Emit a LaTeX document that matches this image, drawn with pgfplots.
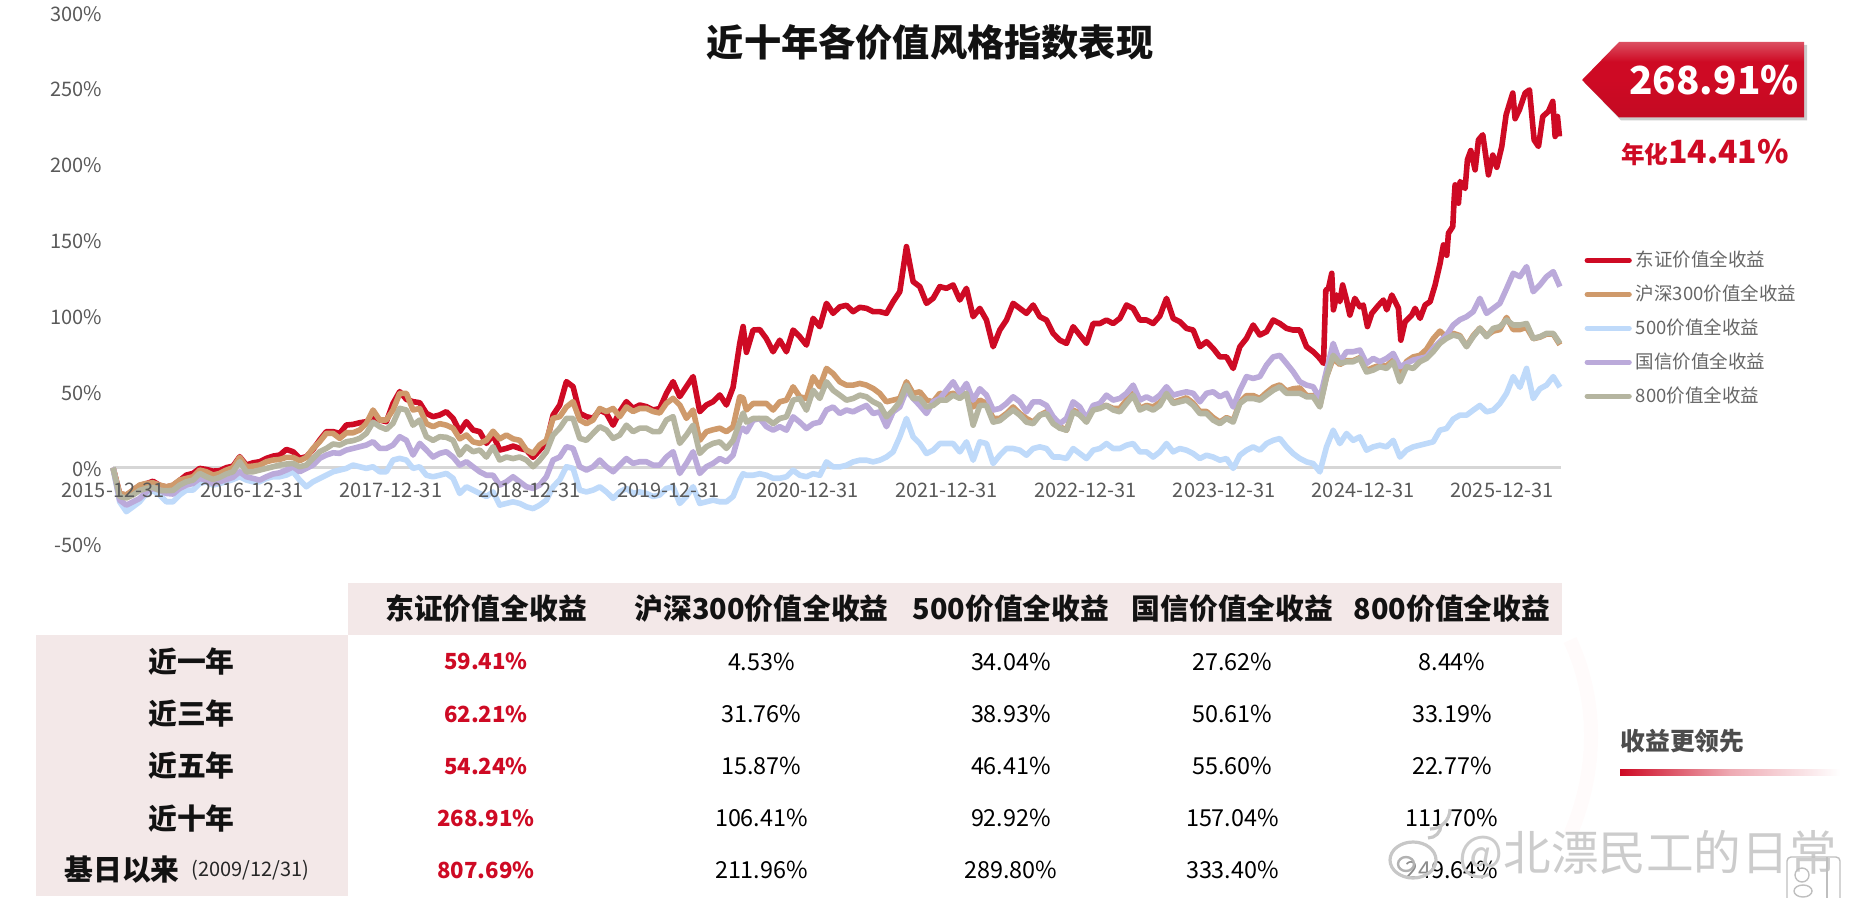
\documentclass[border=0pt]{standalone}
\usepackage{fontspec}
\setmainfont{Noto Sans CJK SC}
\usepackage{pgfplots}
\usepackage{pgfplotstable}
\pgfplotsset{compat=1.18}

\definecolor{cRed}{HTML}{CE0A24}
\definecolor{cOrange}{HTML}{CF9A6B}
\definecolor{cBlue}{HTML}{BFDAFA}
\definecolor{cPurple}{HTML}{BBAADA}
\definecolor{cOlive}{HTML}{B5B5A0}
\definecolor{cBand}{HTML}{F3E8E8}
\definecolor{cTick}{HTML}{595959}

\pgfdeclareverticalshading{badge}{100bp}{color(0bp)=(cRed!95!black); color(25bp)=(cRed!95!black); color(50bp)=(cRed); color(62bp)=(cRed); color(75bp)=(cRed!72!white); color(100bp)=(cRed!72!white)}
\pgfdeclarehorizontalshading{fadebar}{100bp}{color(0bp)=(cRed); color(25bp)=(cRed); color(50bp)=(cRed!35!white); color(75bp)=(white); color(100bp)=(white)}

% day = trading days since 2015-12-31, 250 to a tick; the others are cumulative return in %
\pgfplotstableread{
day red hs300 z500 guoxin z800
0 0 0 0 0 0
12 -17.2 -17 -22.5 -21.4 -19
24 -18.2 -18 -29 -24.7 -20
36 -15 -14.8 -25.8 -22.5 -18
48 -11.8 -11.5 -22.5 -20.3 -15
60 -10.6 -10.4 -17 -15.9 -13.7
72 -9 -10 -15.2 -13.7 -13
84 -11.7 -11.5 -18 -14.8 -15
96 -12.8 -12.6 -22.5 -17 -15.2
108 -11.7 -11.5 -22.5 -17.4 -15
120 -8.4 -8.2 -18 -13.7 -11.5
132 -4.9 -7.1 -14.8 -11.5 -9.3
144 -3.8 -6 -14.8 -10.4 -8.2
156 -0.5 -1.6 -10.4 -7.1 -3.8
168 -1.2 -2.7 -9.3 -8.2 -6
180 -2.3 -4.9 -11.5 -10.4 -7.8
192 -2 -3.8 -10.4 -9.3 -6.4
204 0 -1.6 -9.3 -7.8 -4.2
216 1 0 -7.8 -6.4 -2.7
228 7.2 6.8 -6 -2.7 3.9
240 1.7 0.6 -8.2 -6 -2.7
252 3.2 1 -9.3 -7.1 -2.7
264 3.9 1.7 -9.3 -8.2 -1.6
276 6.1 3.9 -7.1 -6 -0.5
288 7.6 5 -6 -4.2 0.6
300 8.3 5.4 -6 -3.4 1.7
312 12 6.8 -4.9 -1.6 2.4
324 10.5 6.8 -2.7 0.6 2.8
336 6.1 4.6 -8.2 -2.7 0.6
348 7.2 6.8 -12.6 -0.5 1.7
360 12 12.7 -9.3 1.7 6.1
372 18.2 17.1 -7.1 6.1 10.5
384 23.7 22.6 -4.9 8.3 12.7
396 23.7 22.6 -2.7 9.8 15.6
408 22.6 19.3 -1.6 9.4 14.9
420 28.1 23 -0.5 11.6 17.1
432 28.5 23 1.7 12.7 17.8
444 29.6 24.8 0.6 13.8 19.3
456 30.3 29.2 -0.5 14.9 22.6
468 33.6 38 0.6 17.1 30
480 31.4 31.4 -2.7 12.7 27
492 30.3 31.4 -2.7 12.7 25.2
504 42.4 38 5 14.9 29.2
516 50.1 49 6.1 20.4 39.1
528 45 49 5 18 38
540 43.5 38 -0.5 8.3 28
552 42.8 39 0.6 16 31.4
564 35.8 29 -5 11.6 20.4
576 33.6 27 -6 7 18
588 34.7 29 -5 9.4 20.4
600 36.9 28 -3.8 10.5 20
612 32.5 26 -7 7 18
624 23.7 19 -17 1.7 8.3
636 30.3 21.5 -12.6 3.9 13.8
648 24.8 17 -14.8 0.6 10.5
660 23.7 16 -17 -2.7 11.6
672 16 18 -19 -5 7
684 21.5 24 -16 -5 13.8
696 11.6 19 -24.7 -11.5 5
708 12.7 21.5 -23.6 -9.3 7
720 14.2 19 -22.5 -6 6
732 12.7 18 -23.6 -9.3 7
744 11.6 11.6 -25.8 -12.6 5
756 6.8 9.4 -27 -13.7 0.6
768 11.6 15 -24.7 -11.5 5
780 16 18 -21.4 -6 10.5
792 34.7 32.5 -12.6 5 21.5
804 41.3 33.6 -8 7 26
816 56.7 40 0.6 13.8 32.5
828 53.4 43.5 -0.5 12.7 32.5
840 35.8 31.4 -14.8 0.6 19.3
852 33.6 29 -16 -1.6 18
864 32.5 31.4 -14.8 0.6 22.6
876 38 39 -12.6 5 27
888 35.8 37 -16 0.6 24.8
900 28 39 -20.3 -2.7 19.3
912 36.9 33.6 -16 1.7 21.5
924 43.5 40 -13.7 6 28
936 39 37 -17 2.8 23.7
948 41.3 39 -16 3.9 26
960 40.2 39 -17 3.9 26
972 38 37 -19 1.7 23.7
984 39 36 -18 1.7 23.7
996 49 42.4 -13.7 7 31.4
1008 56.7 45.7 -12.6 10.5 33.6
1020 46.8 41.3 -23.6 -3.8 16
1032 53.4 32.5 -19 2.8 21.5
1044 60 38 -12.6 10.5 28
1056 36.9 18 -23.6 -3.8 9.4
1068 41.3 23.7 -22.5 0.6 13.8
1080 43.5 25 -21.4 2.8 16
1092 47.9 26 -22.5 6 17
1104 41.3 23.7 -22.5 3.9 12.7
1116 53 27 -19 8.3 18
1128 82 46.7 -8 24 30
1134 93 46 -4 26 36
1140 76 38 -5 23.6 30
1152 90.7 42.3 -5 31.3 32.4
1164 91 42.3 -4 32.4 32.4
1176 85 42.3 -5 27 32.4
1188 76.4 38 -7 24.7 29
1200 84 43.4 -7 27 32.4
1212 76.4 44.5 -6 24.7 33.5
1224 90.7 53.3 -1.7 33.5 44.5
1236 86.3 46.7 -5 30 45.6
1248 80.8 45.6 -6 25.8 37.9
1260 98.4 59.9 -4 29 51
1272 92.9 53.3 -5 30 45.6
1284 108.3 65.4 3.8 38 56.6
1296 101.7 62 0.5 40 51
1308 106 56.6 0.5 35.7 47.8
1320 107 54.4 1.6 38 44.5
1332 102.8 54.4 3.8 36.8 45.6
1344 105.7 55.5 4.9 39 47.8
1356 105 54.4 4.9 41 46.7
1368 102.8 52.2 3.8 35.7 43.4
1380 102.8 48.9 4.9 36.8 41.2
1392 101.7 43.4 7 27 33.5
1404 109.4 44.5 10.4 36.8 37.9
1416 116 45.6 20.3 40 43.4
1428 145.7 56.6 32.4 51 54.4
1440 122.6 48.9 20.3 45.6 45.6
1452 119.3 50 15.9 41 45.6
1464 108.3 44.5 9.3 35.7 40
1476 111.6 43.4 11.5 43.4 41
1488 119.3 49 15.9 45.6 44.5
1500 118.2 47.8 15.9 51 44.5
1512 120.4 49 15.9 56.6 47.8
1524 110.5 46.7 10.4 49 45.6
1536 118.2 49 17 55.5 49
1548 99.5 40 4.9 44.5 28
1560 105 44.5 17 52 41
1572 97.3 42.3 15.9 47.8 41
1584 79.7 32.4 2.7 38 30
1596 90.7 32.4 8.2 39 31
1608 97.3 35.7 12.6 42.3 34.6
1620 108.3 40 12.6 46.7 38
1632 105 35.7 11.5 43.4 34.6
1644 101.7 32.4 8.2 36.8 30
1656 107.2 30 12.6 43.4 29
1668 99.5 34.6 13.7 43.4 34.6
1680 97.3 36.8 12.6 41 35.7
1692 88.5 31.3 7 33.5 29
1704 84 27 7 29 26
1716 81.9 24.7 6 32.4 24.7
1728 92.9 37.9 12.6 43.4 36.8
1740 87.4 35.7 9.3 40 34.6
1752 81.9 31.3 6 32.4 30
1764 95 39 11.5 41 38
1776 95 40 12.6 42.3 39
1788 97.3 41 15.9 47.8 41
1800 95 39 12.6 44.5 38
1812 98.4 39 12.6 45.6 36.8
1824 107.2 44.5 14.8 49 42.3
1836 105 49 15.9 54.4 47.8
1848 97.3 39 10.4 44.5 38
1860 97.3 41 10.4 46.7 40
1872 95 40 7 44.5 37.9
1884 100 43 10.4 47.8 41
1896 111.6 49.5 15.9 53.3 48.9
1908 98.4 43 10.4 47.8 42.3
1920 96.2 44.5 12.6 49 43.4
1932 91.8 46 11.5 50 44.5
1944 90.7 42.5 9.3 49 41.2
1956 79.7 37 6 43.4 35.7
1968 83 37 8.2 49 35.7
1980 78.6 33 7 50 31.3
1992 73 30 4.9 46.7 29
2004 73 33 6 49 32.4
2016 65.4 31 -0.5 40 30
2028 79.7 43 8.2 51 42.3
2040 85.2 47.5 11.5 60 45.6
2052 94 47.5 13.7 58.8 45.6
2064 87.4 45.5 11.5 60 44.5
2076 89.6 49.5 15.9 67.6 47.8
2088 97.3 53 18 73 51
2100 95 54.5 19.2 74 53.3
2112 91.8 50.5 13.7 68.7 49
2124 90.7 52 9.3 63.2 49
2136 90.7 52.5 6 56.6 49
2148 79.7 47.5 3.8 54.4 46.7
2160 76.4 47.5 2.7 53.3 46.7
2172 72 41 -2.8 45.6 40
2184 117 60 13.7 64 59.9
2196 125 72 24.7 81.9 74
2208 113.8 68 15.9 69.8 68.7
2220 109.4 70.5 22.5 76.4 69.8
2232 107.2 70.5 18 76.4 69.8
2244 107 72.5 20.3 77.5 72
2256 94 64 11.5 68.7 63
2268 100.6 66 13.7 72 64.3
2280 107 67.5 14.8 69.8 66.5
2292 107 67 13.7 72 65.4
2304 112.7 71 18 75.3 69.8
2316 85.2 60 7 66.5 56.6
2328 96.2 70 11.5 68.7 66.5
2340 101.7 73 13.7 70.9 65.4
2352 98.4 74 14.8 72 69.8
2364 107.2 78 15.9 73 72
2376 115 85 17 78.6 76.4
2388 131.4 90 24.7 83 81.9
2400 153.4 86 25.8 87.4 85.2
2412 176.5 88.5 32 94 87.4
2424 188.6 87 34.6 97.5 86.3
2436 194 80 34.6 99.5 79.7
2448 198.5 87 37.9 102.8 86.3
2460 216 92 41 111.6 91.8
2472 207 87 36.8 101.7 86.3
2484 206 90 37.9 105 91.8
2496 206 91 42.3 108.3 92.9
2508 231.5 99 49 118 97.3
2520 245.8 91 60 128.1 94
2532 237 91 53 125.9 94
2544 248 92.5 65.4 132.5 95
2556 218.3 85 45.6 116 85.2
2568 214 86 52 120.4 86.3
2580 232.6 88 54.4 125.9 88.5
2592 240.3 88 60 129.2 88.5
2604 218 81 53 119.3 81.9
}\perf

% red line from 2024-09 on, read more closely
\pgfplotstableread{
day red
2172 72
2178.5 68.7
2182.7 117
2187.4 118
2193.4 128.1
2196.4 104
2202.5 113.8
2208 109.4
2213 120.4
2220 110.5
2226 100.6
2235 111.6
2244 106
2250 107.2
2257.6 93
2265.4 101.7
2277.5 107
2286.4 110.5
2292.4 104
2301.5 113.8
2313.4 105
2317.7 84
2325.4 96.2
2337.4 100.6
2343.4 105
2352.4 98.4
2361.4 107.2
2370.4 109.4
2379.4 120.4
2388.4 134.7
2391.4 141
2394.4 146.8
2400.4 140
2403.4 154.5
2411.2 158.9
2413.6 176.5
2415.4 186.4
2421.4 174.3
2424.4 188.6
2433.4 184
2437.6 203
2443.6 209
2451.4 196.3
2457.4 216
2465.2 219.4
2475.4 193
2483.2 206
2490.4 198
2499.4 211.7
2507.2 232.6
2519.2 246.9
2523.4 230
2531.2 236
2541.4 246.9
2549.2 249
2557.6 216
2565.4 211.7
2573.2 231.5
2583.4 234.8
2591.2 241.4
2595.4 218.3
2599.6 231.5
2603.2 218.3
}\redtail

\begin{document}
\begin{tikzpicture}[x=0.5pt,y=-0.5pt]
\path[use as bounding box] (0,0) rectangle (1856,898);

\begin{axis}[
    at={(56.5pt,-271.75pt)}, anchor=south west,
    scale only axis, width=724pt, height=265.5pt,
    xmin=0, xmax=2606, ymin=-50, ymax=300,
    clip=false, axis on top,
    axis x line=middle, axis y line=left,
    hide obscured x ticks=false,
    x axis line style={draw=none, -},
    y axis line style={draw=none, -},
    major tick length=0pt,
    xtick={0,250,...,2500},
    xticklabels={2015-12-31,2016-12-31,2017-12-31,2018-12-31,2019-12-31,2020-12-31,2021-12-31,2022-12-31,2023-12-31,2024-12-31,2025-12-31},
    ytick={-50,0,...,300},
    yticklabels={-50\%,0\%,50\%,100\%,150\%,200\%,250\%,300\%},
    tick label style={font=\fontsize{10}{12}\selectfont, text=cTick},
    x tick label style={yshift=-4.3pt},
    y tick label style={xshift=-2pt, yshift=-0.6pt},
    legend style={at={(1.016,0.559)}, anchor=north west, draw=none, fill=none,
        font=\fontsize{9.25}{11}\selectfont, text=black!60, row sep=3.6pt, inner sep=0pt},
    legend cell align=left,
    legend image code/.code={\draw[#1,line width=2.6pt,line cap=round] (0pt,0pt) -- (21pt,0pt);},
    every axis plot/.append style={line width=2.8pt, line join=round, no markers},
]
\addplot[black!16, line width=1.2pt, forget plot] coordinates {(0,0) (2606,0)};
\addplot[cRed, restrict x to domain=0:2172] table[x=day,y=red] {\perf};
\addlegendentry{东证价值全收益}
\addplot[cRed, forget plot] table[x=day,y=red] {\redtail};
\addplot[cOrange] table[x=day,y=hs300] {\perf};
\addlegendentry{沪深300价值全收益}
\addplot[cBlue] table[x=day,y=z500] {\perf};
\addlegendentry{500价值全收益}
\addplot[cPurple] table[x=day,y=guoxin] {\perf};
\addlegendentry{国信价值全收益}
\addplot[cOlive] table[x=day,y=z800] {\perf};
\addlegendentry{800价值全收益}
\end{axis}

% title
\node[font=\fontsize{18.6}{22}\selectfont\bfseries, text=black!93] at (930,42) {近十年各价值风格指数表现};

% badge
\fill[black!45, opacity=.45] (1585,83) -- (1621,45) -- (1807,45) -- (1807,120.5) -- (1621,120.5) -- cycle;
\shade[shading=badge] (1582,80) -- (1619,42) -- (1804,42) -- (1804,117.5) -- (1619,117.5) -- cycle;
\node[font=\fontsize{19.3}{24}\selectfont\bfseries, text=white] at (1714,80) {268.91\%};
\node[text=cRed, font=\bfseries, anchor=base] at (1705,164) {\fontsize{11.8}{14}\selectfont 年化\fontsize{16}{19}\selectfont 14.41\%};

% faint swoosh behind the table's right end
\draw[red!1.5, line width=7pt] (1570,640) .. controls (1598,700) and (1598,770) .. (1570,835);

% table bands
\fill[cBand] (348,583) rectangle (1562,635);
\fill[cBand] (36,635) rectangle (348,895.6);

\tikzset{th/.style={font=\fontsize{14.4}{17}\selectfont\bfseries, text=black!93},
         tv/.style={font=\fontsize{11.7}{14}\selectfont, text=black},
         tr/.style={font=\fontsize{11.1}{14}\selectfont\bfseries, text=cRed}}
\node[th] at (486,609) {东证价值全收益};
\node[th] at (761.5,609) {沪深300价值全收益};
\node[th] at (1011,609) {500价值全收益};
\node[th] at (1232.5,609) {国信价值全收益};
\node[th] at (1452,609) {800价值全收益};

\node[th] at (191.5,661.7) {近一年};
\node[th] at (191.5,714) {近三年};
\node[th] at (191.5,766) {近五年};
\node[th] at (191.5,818.3) {近十年};
\node[th, anchor=west, inner sep=0pt] at (64,870) {基日以来};
\node[font=\fontsize{10}{12}\selectfont, text=black!85, anchor=west, inner sep=0pt] at (191,870) {(2009/12/31)};

\node[tr] at (486,661.7) {59.41\%};
\node[tr] at (486,714) {62.21\%};
\node[tr] at (486,766) {54.24\%};
\node[tr] at (486,818.3) {268.91\%};
\node[tr] at (486,870) {807.69\%};

\node[tv] at (761.5,661.7) {4.53\%};
\node[tv] at (761.5,714) {31.76\%};
\node[tv] at (761.5,766) {15.87\%};
\node[tv] at (761.5,818.3) {106.41\%};
\node[tv] at (761.5,870) {211.96\%};

\node[tv] at (1011,661.7) {34.04\%};
\node[tv] at (1011,714) {38.93\%};
\node[tv] at (1011,766) {46.41\%};
\node[tv] at (1011,818.3) {92.92\%};
\node[tv] at (1011,870) {289.80\%};

\node[tv] at (1232.5,661.7) {27.62\%};
\node[tv] at (1232.5,714) {50.61\%};
\node[tv] at (1232.5,766) {55.60\%};
\node[tv] at (1232.5,818.3) {157.04\%};
\node[tv] at (1232.5,870) {333.40\%};

\node[tv] at (1452,661.7) {8.44\%};
\node[tv] at (1452,714) {33.19\%};
\node[tv] at (1452,766) {22.77\%};
\node[tv] at (1452,818.3) {111.70\%};
\node[tv] at (1452,870) {249.64\%};

% right note
\node[font=\fontsize{12.4}{15}\selectfont\bfseries, text=black!70, anchor=west, inner sep=0pt] at (1620,741) {收益更领先};
\shade[shading=fadebar] (1620,769) rectangle (1840,775);

% watermark: logo, handle, corner mark
\fill[white, opacity=.55] (1413,860) ellipse [x radius=24, y radius=19];
\draw[black!22, line width=1.6pt] (1413,860) ellipse [x radius=23, y radius=18];
\draw[black!30, line width=1.2pt] (1406,864) ellipse [x radius=8, y radius=7];
\draw[black!22, line width=1.6pt] (1428,838) arc [start angle=90, end angle=0, radius=13];
\draw[black!22, line width=1.6pt] (1430,829) arc [start angle=90, end angle=0, radius=20];
\node[font=\fontsize{23.8}{28}\selectfont, text=black!20, anchor=west, inner sep=0pt] at (1458,855) {@北漂民工的日常};
\draw[black!25, line width=.7pt, rounded corners=2pt] (1787,898) -- (1787,857) -- (1840,857) -- (1840,898);
\draw[black!25, line width=.7pt] (1827,857) -- (1827,898);
\draw[black!25, line width=.7pt] (1802,875) circle [radius=7];
\draw[black!25, line width=.7pt] (1803,891) ellipse [x radius=9, y radius=6];
\end{tikzpicture}
\end{document}
